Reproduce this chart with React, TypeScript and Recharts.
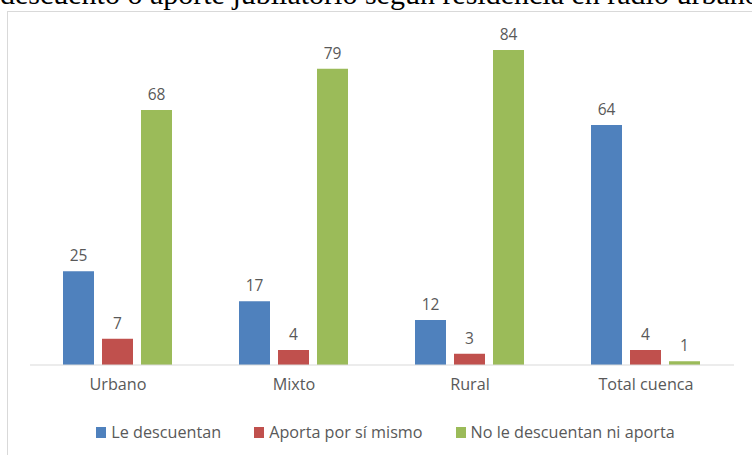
import React from "react";
import { BarChart, Bar, XAxis, YAxis, Legend, LabelList } from "recharts";

const categories = ["Urbano", "Mixto", "Rural", "Total cuenca"];
const leDescuentan = [25, 17, 12, 64];
const aportaPorSiMismo = [7, 4, 3, 4];
const noLeDescuentan = [68, 79, 84, 1];

const seriesNames = ["Le descuentan", "Aporta por sí mismo", "No le descuentan ni aporta"];
const seriesColors = ["#4F81BD", "#C0504D", "#9BBB59"];

const data = categories.map((c, i) => ({
  name: c,
  s0: leDescuentan[i],
  s1: aportaPorSiMismo[i],
  s2: noLeDescuentan[i],
}));

const FONT = "'Open Sans', sans-serif";
const TEXT = "#595959";

function ChartLegend() {
  return (
    <div
      style={{
        height: 46,
        display: "flex",
        justifyContent: "center",
        alignItems: "center",
        gap: 33,
        paddingLeft: 7,
        fontFamily: FONT,
        fontSize: 16.2,
        color: TEXT,
      }}
    >
      {seriesNames.map((n, i) => (
        <div key={n} style={{ display: "flex", alignItems: "center" }}>
          <span
            style={{
              width: 10,
              height: 11,
              background: seriesColors[i],
              marginRight: 5,
              display: "inline-block",
            }}
          />
          <span>{n}</span>
        </div>
      ))}
    </div>
  );
}

export default function App() {
  return (
    <div
      style={{
        position: "absolute",
        left: 0,
        top: 0,
        width: 752,
        height: 455,
        overflow: "hidden",
        background: "#fff",
      }}
    >
      <div
        style={{
          position: "absolute",
          left: 0,
          top: -21,
          whiteSpace: "nowrap",
          fontFamily: "'Liberation Serif', 'Times New Roman', serif",
          fontSize: 30,
          lineHeight: 1,
          color: "#000",
        }}
      >
        descuento o aporte jubilatorio según residencia en radio urbano
      </div>
      <div
        style={{
          position: "absolute",
          left: 7,
          top: 11,
          width: 800,
          height: 500,
          borderLeft: "1px solid #D9D9D9",
          borderTop: "1px solid #D9D9D9",
        }}
      />
      <div style={{ position: "absolute", left: 0, top: 0 }}>
        <BarChart
          width={752}
          height={455}
          data={data}
          margin={{ top: 27.5, right: 18, left: 30, bottom: 0 }}
          barCategoryGap={33}
          barGap={8}
        >
          <XAxis
            dataKey="name"
            axisLine={{ stroke: "#D9D9D9", strokeWidth: 1 }}
            tickLine={false}
            tickSize={0}
            tickMargin={13}
            height={44}
            tick={{ fill: TEXT, fontSize: 16.2, fontFamily: FONT }}
          />
          <YAxis hide domain={[0, 90]} />
          <Legend verticalAlign="bottom" content={() => <ChartLegend />} />
          {["s0", "s1", "s2"].map((k, i) => (
            <Bar
              key={k}
              dataKey={k}
              name={seriesNames[i]}
              fill={seriesColors[i]}
              isAnimationActive={false}
            >
              <LabelList
                dataKey={k}
                position="top"
                offset={10}
                fill={TEXT}
                fontSize={15.5}
                fontFamily={FONT}
              />
            </Bar>
          ))}
        </BarChart>
      </div>
    </div>
  );
}
